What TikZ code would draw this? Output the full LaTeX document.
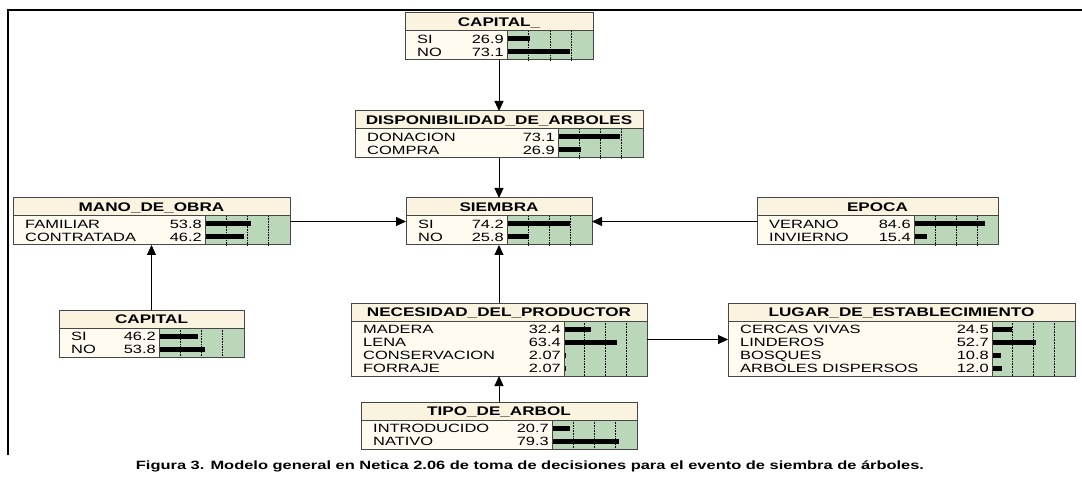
\documentclass[tikz,border=0pt]{standalone}
\usepackage{fontspec}
\setmainfont{Liberation Sans}[FakeStretch=1.37]
\usetikzlibrary{arrows.meta}

\definecolor{titlefill}{RGB}{250,243,224}
\definecolor{bodyfill}{RGB}{255,251,241}
\definecolor{barfill}{RGB}{186,215,186}
\definecolor{boxedge}{RGB}{70,70,70}

\tikzset{
  frame/.style={draw=boxedge, line width=1pt, inner sep=0pt, outer sep=0pt},
  titletext/.style={font=\bfseries\fontsize{12.5}{12.5}\selectfont, inner sep=0pt},
  statetext/.style={font=\fontsize{12}{12}\selectfont, inner sep=0pt},
  link/.style={-{Triangle[length=10pt,width=9pt]}, line width=1pt},
}

% #1 name, #2 left, #3 top, #4 right, #5 start of bars, #6 title, #7 states
\newcommand{\netbox}[7]{%
  \foreach \lab/\val [count=\i] in {#7} {\xdef\nstates{\i}}
  \pgfmathsetmacro{\boxbot}{#3+21+13*\nstates}
  \pgfmathsetmacro{\midx}{(#2+#4)/2}
  \pgfmathsetmacro{\midy}{(#3+\boxbot)/2}
  \pgfmathsetmacro{\boxwd}{#4-#2}
  \pgfmathsetmacro{\boxht}{\boxbot-#3}
  \fill[bodyfill] (#2,#3) rectangle (#4,\boxbot);
  \fill[titlefill] (#2,#3) rectangle (#4,#3+18);
  \fill[barfill] (#5,#3+18) rectangle (#4,\boxbot);
  \foreach \f in {0.25,0.5,0.75}
    \draw[densely dotted, line width=0.6pt] ({#5+\f*(#4-#5)},#3+18) -- ({#5+\f*(#4-#5)},\boxbot);
  \draw[boxedge, line width=1pt] (#2,#3+18) -- (#4,#3+18) (#5,#3+18) -- (#5,\boxbot);
  \node[titletext] at (\midx,#3+9.5) {#6};
  \foreach \lab/\val [count=\i] in {#7} {
    \node[statetext, anchor=base west] at (#2+12,#3+17.5+13*\i) {\lab};
    \node[statetext, anchor=base east] at (#5-3,#3+17.5+13*\i) {\val};
    \fill (#5+1,#3+10.5+13*\i) rectangle ({#5+\val/100*(#4-#5)},#3+15.5+13*\i);
  }
  \node[frame, minimum width=\boxwd pt, minimum height=\boxht pt] (#1) at (\midx,\midy) {};
}

\begin{document}
\begin{tikzpicture}[x=1pt, y=-1pt]
  \useasboundingbox (0,0) rectangle (1082,489);
  \draw[line width=1.3pt] (8,455) -- (8,10) -- (1082,10);

  \netbox{capitaltop}{405}{13}{593}{507}{CAPITAL\_}{SI/26.9, NO/73.1}
  \netbox{disp}{355}{111}{643}{558}{DISPONIBILIDAD\_DE\_ARBOLES}{DONACION/73.1, COMPRA/26.9}
  \netbox{mano}{13}{198}{290}{205}{MANO\_DE\_OBRA}{FAMILIAR/53.8, CONTRATADA/46.2}
  \netbox{siembra}{406}{198}{592}{507}{SIEMBRA}{SI/74.2, NO/25.8}
  \netbox{epoca}{757}{198}{998}{914}{EPOCA}{VERANO/84.6, INVIERNO/15.4}
  \netbox{capital}{59}{310}{244}{159}{CAPITAL}{SI/46.2, NO/53.8}
  \netbox{necesidad}{351}{303}{647}{564}{NECESIDAD\_DEL\_PRODUCTOR}{MADERA/32.4, LENA/63.4, CONSERVACION/2.07, FORRAJE/2.07}
  \netbox{lugar}{728}{303}{1075}{992}{LUGAR\_DE\_ESTABLECIMIENTO}{CERCAS VIVAS/24.5, LINDEROS/52.7, BOSQUES/10.8, ARBOLES DISPERSOS/12.0}
  \netbox{tipo}{361}{402}{637}{552}{TIPO\_DE\_ARBOL}{INTRODUCIDO/20.7, NATIVO/79.3}

  \draw[link] (capitaltop) -- (disp);
  \draw[link] (disp) -- (siembra);
  \draw[link] (mano) -- (siembra);
  \draw[link] (epoca) -- (siembra);
  \draw[link] (capital) -- (mano);
  \draw[link] (necesidad) -- (siembra);
  \draw[link] (necesidad) -- (lugar);
  \draw[link] (tipo) -- (necesidad);

  \node[font=\bfseries\fontsize{12}{12}\selectfont] (caption) at (530,466)
    {Figura 3. Modelo general en Netica 2.06 de toma de decisiones para el evento de siembra de árboles.};
\end{tikzpicture}
\end{document}
